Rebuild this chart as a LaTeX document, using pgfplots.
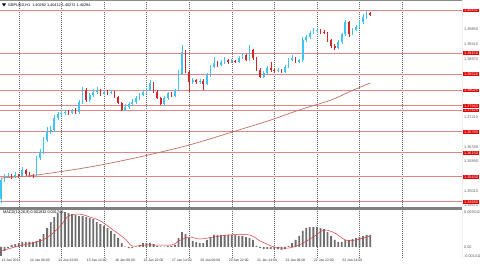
\documentclass[border=0pt]{standalone}
\usepackage{pgfplots}
\usepackage{pgfplotstable}
\pgfplotsset{compat=1.18}
\usepackage{fontspec}
\setmainfont{Liberation Sans}
\definecolor{upc}{RGB}{64,196,240}
\definecolor{dnc}{RGB}{210,40,40}
\definecolor{hl}{RGB}{222,135,135}
\definecolor{lab}{RGB}{226,0,0}
\definecolor{ma}{RGB}{196,112,100}
\definecolor{sepc}{RGB}{128,128,128}
\definecolor{histc}{RGB}{110,110,110}
\definecolor{sigc}{RGB}{220,60,60}
\newcommand{\tf}{\fontsize{3.8}{4.2}\selectfont}
\newcommand{\xf}{\fontsize{3.4}{4}\selectfont}

\pgfplotstableread{
x o h l c
0 1.3477 1.3540 1.3465 1.3534
1 1.3534 1.3552 1.3528 1.3543
2 1.3543 1.3555 1.3540 1.3546
4 1.3543 1.3558 1.3540 1.3549
6 1.3546 1.3573 1.3543 1.3564
10 1.3546 1.3606 1.3543 1.3600
11 1.3600 1.3627 1.3594 1.3618
12 1.3618 1.3663 1.3612 1.3654
13 1.3654 1.3693 1.3648 1.3678
14 1.3678 1.3696 1.3672 1.3684
15 1.3684 1.3729 1.3678 1.3720
16 1.3720 1.3738 1.3714 1.3732
17 1.3732 1.3744 1.3726 1.3735
18 1.3735 1.3744 1.3729 1.3738
20 1.3735 1.3747 1.3732 1.3741
22 1.3738 1.3774 1.3732 1.3768
23 1.3768 1.3813 1.3762 1.3804
25 1.3774 1.3795 1.3768 1.3789
26 1.3789 1.3807 1.3783 1.3798
27 1.3798 1.3813 1.3792 1.3801
29 1.3792 1.3804 1.3789 1.3798
31 1.3795 1.3804 1.3792 1.3798
35 1.3744 1.3762 1.3741 1.3753
36 1.3753 1.3768 1.3747 1.3762
37 1.3762 1.3777 1.3756 1.3768
38 1.3768 1.3786 1.3762 1.3780
39 1.3780 1.3795 1.3774 1.3789
40 1.3789 1.3804 1.3786 1.3798
41 1.3798 1.3810 1.3792 1.3804
42 1.3804 1.3834 1.3801 1.3825
46 1.3762 1.3786 1.3759 1.3780
47 1.3780 1.3798 1.3774 1.3795
49 1.3786 1.3807 1.3783 1.3804
50 1.3804 1.3864 1.3801 1.3852
51 1.3852 1.3939 1.3849 1.3918
54 1.3828 1.3840 1.3822 1.3834
56 1.3828 1.3837 1.3822 1.3831
58 1.3822 1.3855 1.3819 1.3849
59 1.3849 1.3879 1.3843 1.3873
60 1.3873 1.3903 1.3870 1.3885
62 1.3879 1.3894 1.3876 1.3888
63 1.3888 1.3903 1.3882 1.3894
65 1.3888 1.3897 1.3885 1.3891
67 1.3888 1.3906 1.3885 1.3900
68 1.3900 1.3915 1.3897 1.3909
70 1.3894 1.3939 1.3891 1.3924
74 1.3843 1.3861 1.3840 1.3855
75 1.3855 1.3876 1.3852 1.3870
78 1.3861 1.3870 1.3858 1.3864
80 1.3858 1.3879 1.3855 1.3873
81 1.3873 1.3900 1.3870 1.3894
82 1.3894 1.3909 1.3891 1.3900
84 1.3888 1.3897 1.3885 1.3894
85 1.3894 1.3963 1.3888 1.3954
86 1.3954 1.3969 1.3948 1.3963
87 1.3963 1.3981 1.3957 1.3975
88 1.3975 1.3990 1.3972 1.3981
89 1.3981 1.3990 1.3975 1.3984
95 1.3930 1.3954 1.3927 1.3948
96 1.3948 1.3975 1.3942 1.3972
97 1.3972 1.4014 1.3966 1.4008
99 1.3972 1.3990 1.3969 1.3984
100 1.3984 1.3999 1.3981 1.3993
101 1.3993 1.4014 1.3990 1.4008
102 1.4008 1.4032 1.4002 1.4023
103 1.4023 1.4041 1.4017 1.4035
}\upbars

\pgfplotstableread{
x o h l c
3 1.3546 1.3552 1.3537 1.3543
5 1.3549 1.3552 1.3540 1.3546
7 1.3564 1.3567 1.3546 1.3552
8 1.3552 1.3558 1.3543 1.3549
9 1.3549 1.3552 1.3540 1.3546
19 1.3738 1.3744 1.3729 1.3735
21 1.3741 1.3750 1.3732 1.3738
24 1.3804 1.3810 1.3768 1.3774
28 1.3801 1.3807 1.3786 1.3792
30 1.3798 1.3804 1.3789 1.3795
32 1.3798 1.3801 1.3780 1.3783
33 1.3783 1.3786 1.3762 1.3765
34 1.3765 1.3768 1.3741 1.3744
43 1.3825 1.3828 1.3795 1.3798
44 1.3798 1.3804 1.3777 1.3780
45 1.3780 1.3783 1.3759 1.3762
48 1.3795 1.3798 1.3783 1.3786
52 1.3918 1.3924 1.3855 1.3858
53 1.3858 1.3864 1.3798 1.3828
55 1.3834 1.3837 1.3822 1.3828
57 1.3831 1.3837 1.3804 1.3822
61 1.3885 1.3891 1.3873 1.3879
64 1.3894 1.3897 1.3882 1.3888
66 1.3891 1.3894 1.3885 1.3888
69 1.3909 1.3912 1.3891 1.3894
71 1.3924 1.3927 1.3894 1.3900
72 1.3900 1.3903 1.3861 1.3864
73 1.3864 1.3870 1.3840 1.3843
76 1.3870 1.3888 1.3858 1.3864
77 1.3864 1.3870 1.3855 1.3861
79 1.3864 1.3867 1.3855 1.3858
83 1.3900 1.3903 1.3885 1.3888
90 1.3984 1.3987 1.3972 1.3978
91 1.3978 1.3984 1.3972 1.3975
92 1.3975 1.3978 1.3948 1.3954
93 1.3954 1.3957 1.3930 1.3936
94 1.3936 1.3942 1.3924 1.3930
98 1.4008 1.4011 1.3963 1.3972
104 1.4035 1.4038 1.4026 1.4029
}\dnbars

\pgfplotstableread{
x m
0 -0.00142
1 -0.00063
2 -0.00016
3 0.00032
4 0.00047
5 0.00063
6 0.00079
7 0.00079
8 0.00079
9 0.00079
10 0.00095
11 0.00126
12 0.00205
13 0.00300
14 0.00395
15 0.00474
16 0.00537
17 0.00553
18 0.00553
19 0.00537
20 0.00521
21 0.00506
22 0.00490
23 0.00490
24 0.00474
25 0.00458
26 0.00442
27 0.00395
28 0.00363
29 0.00332
30 0.00300
31 0.00253
32 0.00205
33 0.00142
34 0.00063
35 0.00005
36 -0.00016
37 -0.00016
38 0.00005
39 0.00032
40 0.00063
41 0.00063
42 0.00063
43 0.00047
44 0.00016
45 0.00005
46 0.00005
47 0.00016
48 0.00016
49 0.00032
50 0.00142
51 0.00237
52 0.00205
53 0.00142
54 0.00095
55 0.00079
56 0.00063
57 0.00063
58 0.00111
59 0.00158
60 0.00190
61 0.00190
62 0.00190
63 0.00190
64 0.00190
65 0.00190
66 0.00190
67 0.00174
68 0.00174
69 0.00158
70 0.00142
71 0.00111
72 0.00016
73 -0.00016
74 -0.00032
75 -0.00032
76 -0.00032
77 -0.00032
78 -0.00032
79 -0.00047
80 -0.00032
81 0.00016
82 0.00063
83 0.00111
84 0.00174
85 0.00253
86 0.00300
87 0.00316
88 0.00316
89 0.00316
90 0.00300
91 0.00284
92 0.00237
93 0.00174
94 0.00111
95 0.00079
96 0.00079
97 0.00111
98 0.00111
99 0.00126
100 0.00142
101 0.00158
102 0.00174
103 0.00190
104 0.00190
}\macdtab

\pgfplotstableread{
x s
0 -0.00063
5 0.00016
11 0.00095
14 0.00190
17 0.00348
19 0.00490
22 0.00521
25 0.00474
28 0.00411
32 0.00253
35 0.00126
37 0.00016
41 0.00032
48 0.00032
50 0.00095
53 0.00158
56 0.00126
60 0.00158
64 0.00190
70 0.00190
73 0.00095
77 0.00000
81 -0.00016
84 0.00032
88 0.00158
91 0.00269
94 0.00221
97 0.00111
100 0.00111
104 0.00174
}\sigtab

\begin{document}
\begin{tikzpicture}
\useasboundingbox (0,0) rectangle (480pt,268pt);
\fill[white] (0,0) rectangle (480pt,268pt);

\begin{axis}[
  at={(0pt,61pt)}, anchor=south west,
  width=462pt, height=207pt, scale only axis,
  xmin=-0.28, xmax=129.86,
  ymin=1.3453, ymax=1.4074,
  axis line style={draw=none},
  major tick length=0pt,
  scaled y ticks=false,
  xtick={5,17,...,113}, xticklabels={},
  xmajorgrids,
  major grid style={black!60, line width=0.45pt, dash pattern=on 0.8pt off 1.2pt},
  ytick={1.3457,1.3501,1.3589,1.3633,1.3721,1.3897,1.3941,1.3985},
  yticklabels={1.34570,1.35010,1.35890,1.36330,1.37210,1.38970,1.39410,1.39850},
  yticklabel pos=right,
  yticklabel style={font=\tf, text=black!65, anchor=west, inner xsep=1pt, inner ysep=0.4pt, xshift=1pt},
  extra y ticks={1.3468,1.3543,1.3615,1.3678,1.37425,1.3756,1.38025,1.3852,1.3915,1.40431},
  extra y tick labels={1.34680,1.35430,1.36150,1.36780,1.37425,1.37560,1.38025,1.38520,1.39150,1.40431},
  extra y tick style={grid=major, major grid style={draw=hl, line width=1pt, solid}, yticklabel style={fill=lab, text=white}},
]
% wicks
\addplot [draw=none, mark=none, forget plot,
  error bars/.cd, y dir=plus, y explicit, error mark=none,
  error bar style={draw=upc, line width=0.5pt, solid}]
  table [x=x, y=l, y error plus expr=\thisrow{h}-\thisrow{l}] {\upbars};
\addplot [draw=none, mark=none, forget plot,
  error bars/.cd, y dir=plus, y explicit, error mark=none,
  error bar style={draw=dnc, line width=0.5pt, solid}]
  table [x=x, y=l, y error plus expr=\thisrow{h}-\thisrow{l}] {\dnbars};
% bodies
\addplot [draw=none, mark=none, forget plot,
  error bars/.cd, y dir=plus, y explicit, error mark=none,
  error bar style={draw=upc, line width=1.7pt, solid}]
  table [x=x, y=o, y error plus expr=\thisrow{c}-\thisrow{o}] {\upbars};
\addplot [draw=none, mark=none, forget plot,
  error bars/.cd, y dir=plus, y explicit, error mark=none,
  error bar style={draw=dnc, line width=1.7pt, solid}]
  table [x=x, y=c, y error plus expr=\thisrow{o}-\thisrow{c}] {\dnbars};
% moving average
\addplot [ma, line width=0.7pt, smooth, mark=none] coordinates {
(0,1.3540) (10,1.3549) (25,1.3573) (39,1.3603) (53,1.3639) (67,1.3684)
(76,1.3714) (84,1.3744) (93,1.3774) (98,1.3798) (104,1.3825)};
\draw[black!55, line width=0.6pt] (rel axis cs:1,0) -- (rel axis cs:1,1);
\draw[black!45, line width=0.5pt] (rel axis cs:0,1) -- (rel axis cs:1,1);
\node[fill=black, text=white, font=\tf, anchor=west, inner xsep=1pt, inner ysep=0.4pt, xshift=1pt]
  at ({rel axis cs:1,0} |- {axis cs:0,1.40294}) {1.40294};
\end{axis}

\fill[sepc] (0,58pt) rectangle (462pt,61pt);

\begin{axis}[
  at={(0pt,10pt)}, anchor=south west,
  width=462pt, height=48pt, scale only axis,
  xmin=-0.28, xmax=129.86,
  ymin=-0.00174, ymax=0.00585,
  axis line style={draw=none},
  major tick length=0pt,
  scaled y ticks=false,
  xtick={5,17,...,113}, xticklabels={},
  xmajorgrids,
  major grid style={black!60, line width=0.45pt, dash pattern=on 0.8pt off 1.2pt},
  ytick={-0.00141,0,0.00554},
  yticklabels={-0.001411,0.00,0.005542},
  yticklabel pos=right,
  yticklabel style={font=\tf, text=black!65, anchor=west, inner xsep=1pt, inner ysep=0.4pt, xshift=1pt},
  extra x ticks={0,8,...,96},
  extra x tick labels={13 Jan 2014,14 Jan 06:00,14 Jan 22:00,15 Jan 14:00,16 Jan 06:00,16 Jan 22:00,17 Jan 14:00,20 Jan 06:00,20 Jan 22:00,21 Jan 14:00,22 Jan 06:00,22 Jan 22:00,23 Jan 14:00},
  extra x tick style={grid=none, xticklabel style={anchor=north west, font=\xf, text=black!80, inner sep=0.5pt, yshift=-0.5pt}},
]
\addplot [ybar, bar width=1.8pt, fill=histc, draw=none] table [x=x, y=m] {\macdtab};
\addplot [sigc, line width=0.5pt, smooth, mark=none] table [x=x, y=s] {\sigtab};
\draw[black!55, line width=0.6pt] (rel axis cs:1,0) -- (rel axis cs:1,1);
\draw[black!55, line width=0.5pt] (rel axis cs:0,0) -- (rel axis cs:1,0);
\end{axis}

\fill[black] (2pt,264.5pt) -- (6pt,264.5pt) -- (4pt,261.5pt) -- cycle;
\node[font=\tf, anchor=west, inner sep=0pt] at (8pt,263pt) {GBPUSD,H1\ \ 1.40282 1.40412 1.40272 1.40294};
\node[font=\tf, anchor=west, inner sep=0pt] at (3pt,55.5pt) {MACD(12,26,9) 0.001932 0.001745};
\end{tikzpicture}
\end{document}
